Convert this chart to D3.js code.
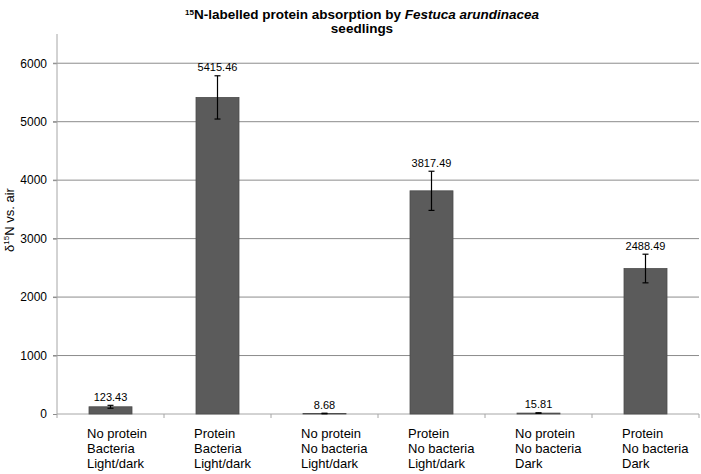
<!DOCTYPE html>
<html>
<head>
<meta charset="utf-8">
<script src="https://cdn.jsdelivr.net/npm/d3@7"></script>
<style>
  body { margin: 0; background: #fff; }
  text { font-family: "Liberation Sans", Arial, sans-serif; }
</style>
</head>
<body>
<div id="chart"></div>
<script>
// data
var categories = [
    ["No protein", "Bacteria", "Light/dark"],
    ["Protein", "Bacteria", "Light/dark"],
    ["No protein", "No bacteria", "Light/dark"],
    ["Protein", "No bacteria", "Light/dark"],
    ["No protein", "No bacteria", "Dark"],
    ["Protein", "No bacteria", "Dark"]
];
var values = [123.43, 5415.46, 8.68, 3817.49, 15.81, 2488.49];
var errors = [25, 370, 5, 335, 5, 245];
var yTicks = [0, 1000, 2000, 3000, 4000, 5000, 6000];

var w = 701, h = 474;
var pLeft = 57, pRight = 699, pTop = 34, pBottom = 414;

var svg = d3.select("#chart").append("svg")
    .attr("width", w)
    .attr("height", h);

var x = d3.scaleBand()
    .domain(d3.range(categories.length))
    .range([pLeft, pRight])
    .paddingInner(0)
    .paddingOuter(0);

var y = d3.scaleLinear()
    .domain([0, 6500])
    .range([pBottom, pTop]);

var barW = 43;

// gridlines
svg.append("g")
    .selectAll("line")
    .data(yTicks.slice(1))
    .enter().append("line")
    .attr("x1", pLeft - 4)
    .attr("x2", pRight)
    .attr("y1", function(d) { return y(d); })
    .attr("y2", function(d) { return y(d); })
    .attr("stroke", "#8c8c8c")
    .attr("stroke-width", 1);

// y axis
var yAxis = svg.append("g")
    .attr("transform", "translate(" + pLeft + ",0)")
    .call(d3.axisLeft(y).tickValues(yTicks).tickSize(4).tickPadding(6).tickFormat(d3.format("d")));
yAxis.select(".domain").remove();
yAxis.selectAll(".tick line").attr("stroke", "#8c8c8c");
yAxis.selectAll(".tick text")
    .attr("font-size", "12px")
    .attr("font-family", "Liberation Sans, Arial, sans-serif")
    .attr("fill", "#000");
svg.append("line")
    .attr("x1", pLeft).attr("x2", pLeft)
    .attr("y1", pTop).attr("y2", pBottom)
    .attr("stroke", "#a6a6a6");

// x axis line and category ticks
svg.append("line")
    .attr("x1", pLeft).attr("x2", pRight)
    .attr("y1", pBottom).attr("y2", pBottom)
    .attr("stroke", "#a6a6a6");
svg.append("g")
    .selectAll("line")
    .data(d3.range(categories.length + 1))
    .enter().append("line")
    .attr("x1", function(i) { return pLeft + x.bandwidth() * i; })
    .attr("x2", function(i) { return pLeft + x.bandwidth() * i; })
    .attr("y1", pBottom)
    .attr("y2", pBottom + 4)
    .attr("stroke", "#a6a6a6");

// bars
svg.append("g")
    .selectAll("rect")
    .data(values)
    .enter().append("rect")
    .attr("x", function(d, i) { return x(i) + x.bandwidth() / 2 - barW / 2; })
    .attr("y", function(d) { return y(d); })
    .attr("width", barW)
    .attr("height", function(d) { return y(0) - y(d); })
    .attr("fill", "#5b5b5b")
    .attr("stroke", "#4d4d4d")
    .attr("stroke-width", 0.8);

// error bars
var err = svg.append("g")
    .selectAll("g")
    .data(values)
    .enter().append("g")
    .attr("stroke", "#000")
    .attr("stroke-width", 1.2);
err.append("line")
    .attr("x1", function(d, i) { return x(i) + x.bandwidth() / 2; })
    .attr("x2", function(d, i) { return x(i) + x.bandwidth() / 2; })
    .attr("y1", function(d, i) { return y(d + errors[i]); })
    .attr("y2", function(d, i) { return y(d - errors[i]); });
err.append("line")
    .attr("x1", function(d, i) { return x(i) + x.bandwidth() / 2 - 3; })
    .attr("x2", function(d, i) { return x(i) + x.bandwidth() / 2 + 3; })
    .attr("y1", function(d, i) { return y(d + errors[i]); })
    .attr("y2", function(d, i) { return y(d + errors[i]); });
err.append("line")
    .attr("x1", function(d, i) { return x(i) + x.bandwidth() / 2 - 3; })
    .attr("x2", function(d, i) { return x(i) + x.bandwidth() / 2 + 3; })
    .attr("y1", function(d, i) { return y(d - errors[i]); })
    .attr("y2", function(d, i) { return y(d - errors[i]); });

// value labels
svg.append("g")
    .selectAll("text")
    .data(values)
    .enter().append("text")
    .attr("x", function(d, i) { return x(i) + x.bandwidth() / 2; })
    .attr("y", function(d, i) { return y(d + errors[i]) - 4.5; })
    .attr("text-anchor", "middle")
    .attr("font-size", "11px")
    .attr("fill", "#000")
    .text(function(d) { return d3.format(".2f")(d); });

// category labels (left aligned blocks)
var cat = svg.append("g")
    .selectAll("text")
    .data(categories)
    .enter().append("text")
    .attr("font-size", "13px")
    .attr("fill", "#000");
cat.selectAll("tspan")
    .data(function(d, i) { return d.map(function(s) { return {s: s, i: i}; }); })
    .enter().append("tspan")
    .attr("x", function(d) { return x(d.i) + 30; })
    .attr("y", function(d, j) { return 438 + j * 15; })
    .text(function(d) { return d.s; });

// title
var title = svg.append("text")
    .attr("x", 362)
    .attr("y", 18.5)
    .attr("text-anchor", "middle")
    .attr("font-size", "13.5px")
    .attr("font-weight", "bold");
title.append("tspan").attr("font-size", "8px").attr("dy", "-4").text("15");
title.append("tspan").attr("dy", "4").text("N-labelled protein absorption by ");
title.append("tspan").attr("font-style", "italic").text("Festuca arundinacea");
svg.append("text")
    .attr("x", 362)
    .attr("y", 32.5)
    .attr("text-anchor", "middle")
    .attr("font-size", "13.5px")
    .attr("font-weight", "bold")
    .text("seedlings");

// y axis title
var ylab = svg.append("text")
    .attr("transform", "translate(14,220) rotate(-90)")
    .attr("text-anchor", "middle")
    .attr("font-size", "13px");
ylab.append("tspan").text("δ");
ylab.append("tspan").attr("font-size", "8px").attr("dy", "-5").text("15");
ylab.append("tspan").attr("dy", "5").text("N vs. air");
</script>
</body>
</html>
